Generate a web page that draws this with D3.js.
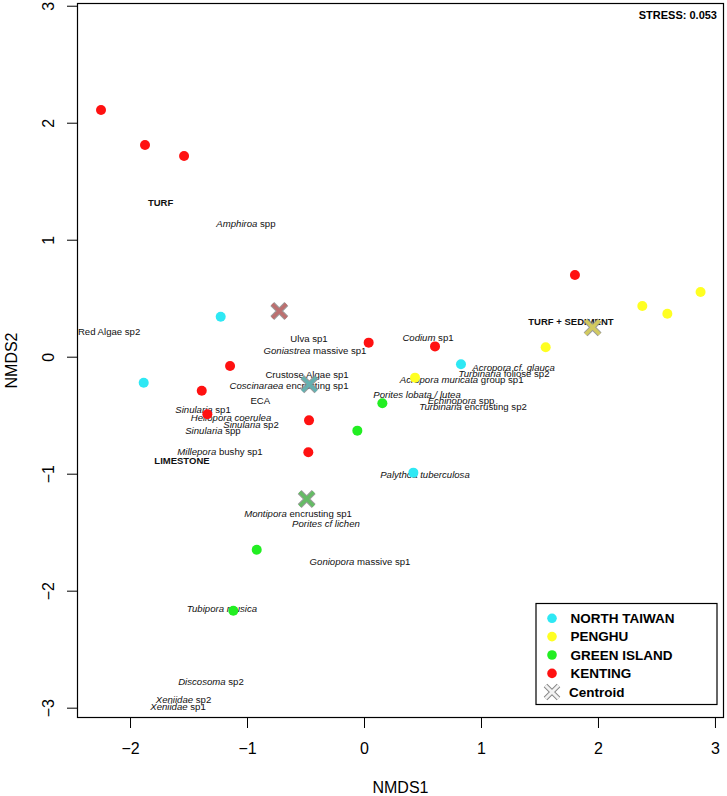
<!DOCTYPE html>
<html>
<head>
<meta charset="utf-8">
<script src="https://cdn.jsdelivr.net/npm/d3@7"></script>
<style>
  html, body { margin: 0; padding: 0; background: #fff; }
  svg { display: block; font-family: "Liberation Sans", Arial, Helvetica, sans-serif; }
</style>
</head>
<body>
<script>
// ---------- DATA ----------
const regions = ["NORTH TAIWAN", "PENGHU", "GREEN ISLAND", "KENTING"];
const regionColors = ["#2ee8f4", "#ffff22", "#22ee22", "#ff1111"];
const centroidColors = ["#5fb3b3", "#d8cf5a", "#5fbf5f", "#c06a6a"];

// site scores (NMDS1, NMDS2) per region
const northTaiwanX = [-1.225, -1.883, 0.829, 0.422];
const northTaiwanY = [0.342, -0.222, -0.065, -0.991];
const penghuX = [0.436, 1.553, 2.379, 2.593, 2.877];
const penghuY = [-0.179, 0.080, 0.433, 0.367, 0.553];
const greenIslandX = [0.157, -0.057, -0.917, -1.117];
const greenIslandY = [-0.398, -0.632, -1.650, -2.171];
const kentingX = [-2.248, -1.872, -1.538, 1.803, 0.040, 0.607, -1.145, -1.387, -1.339, -0.470, -0.476];
const kentingY = [2.109, 1.809, 1.715, 0.698, 0.120, 0.088, -0.079, -0.291, -0.492, -0.544, -0.817];

// centroids (same order as regions)
const centroidX = [-0.467, 1.954, -0.490, -0.724];
const centroidY = [-0.236, 0.251, -1.216, 0.391];

// species scores: italic part + plain part
const speciesItalic = ["", "Amphiroa", "", "Goniastrea", "", "Coscinaraea", "", "Sinularia", "Heliopora coerulea",
  "Sinularia", "Sinularia", "Millepora", "Codium", "Acropora cf. glauca", "Turbinaria", "Acropora muricata",
  "Porites lobata / lutea", "Echinopora", "Turbinaria", "Palythoa tuberculosa", "Montipora", "Porites cf lichen",
  "Goniopora", "Tubipora musica", "Discosoma", "Xeniidae", "Xeniidae"];
const speciesPlain = ["Red Algae sp2", " spp", "Ulva sp1", " massive sp1", "Crustose Algae sp1", " encrusting sp1", "ECA", " sp1", "",
  " sp2", " spp", " bushy sp1", " sp1", "", " foliose sp2", " group sp1",
  "", " spp", " encrusting sp2", "", " encrusting sp1", "",
  " massive sp1", "", " sp2", " sp2", " sp1"];
const speciesX = [-2.179, -1.009, -0.470, -0.419, -0.487, -0.641, -0.886, -1.376, -1.137,
  -0.966, -1.291, -1.231, 0.547, 1.279, 1.197, 0.835,
  0.453, 0.829, 0.932, 0.521, -0.564, -0.325,
  -0.034, -1.214, -1.308, -1.543, -1.590];
const speciesY = [0.214, 1.134, 0.157, 0.051, -0.150, -0.244, -0.379, -0.450, -0.521,
  -0.578, -0.635, -0.812, 0.162, -0.091, -0.142, -0.193,
  -0.321, -0.373, -0.427, -1.011, -1.344, -1.427,
  -1.749, -2.154, -2.778, -2.928, -2.991];

// substrate labels
const substrateNames = ["TURF", "TURF + SEDIMENT", "LIMESTONE"];
const substrateX = [-1.739, 1.769, -1.556];
const substrateY = [1.320, 0.297, -0.891];

const xTicks = [-2, -1, 0, 1, 2, 3];
const yTicks = [-3, -2, -1, 0, 1, 2, 3];
const stressLabel = "STRESS: 0.053";

// ---------- LAYOUT ----------
const W = 727, H = 796;
const pL = 77.5, pR = 723.5, pT = 3.5, pB = 717.5;

const x = d3.scaleLinear().domain([-2.449, 3.073]).range([pL, pR]);
const y = d3.scaleLinear().domain([-3.084, 3.019]).range([pB, pT]);

const svg = d3.select("body").append("svg").attr("width", W).attr("height", H);

const fmt = d => d < 0 ? "\u2212" + Math.abs(d) : String(d);

// axes
const gx = svg.append("g").attr("transform", `translate(0,${pB})`)
  .call(d3.axisBottom(x).tickValues(xTicks).tickSize(10.5).tickFormat(fmt));
gx.select(".domain").remove();
gx.selectAll(".tick line").attr("stroke", "#000").attr("stroke-width", 1);
gx.selectAll(".tick text").attr("y", 0).attr("dy", 0).attr("transform", "translate(0,36.5)")
  .attr("font-size", 16).attr("fill", "#000").attr("font-family", null);

const gy = svg.append("g").attr("transform", `translate(${pL},0)`)
  .call(d3.axisLeft(y).tickValues(yTicks).tickSize(10.5).tickFormat(fmt));
gy.select(".domain").remove();
gy.selectAll(".tick line").attr("stroke", "#000").attr("stroke-width", 1);
gy.selectAll(".tick text").attr("x", 0).attr("dy", 0).attr("text-anchor", "middle")
  .attr("transform", "translate(-24,0) rotate(-90)")
  .attr("font-size", 16).attr("fill", "#000").attr("font-family", null);

// box
svg.append("rect").attr("x", pL).attr("y", pT).attr("width", pR - pL).attr("height", pB - pT)
  .attr("fill", "none").attr("stroke", "#000").attr("stroke-width", 1.2);

// axis titles
svg.append("text").attr("x", (pL + pR) / 2).attr("y", 793).attr("text-anchor", "middle")
  .attr("font-size", 16).text("NMDS1");
svg.append("text").attr("transform", `translate(17,${(pT + pB) / 2}) rotate(-90)`).attr("text-anchor", "middle")
  .attr("font-size", 16).text("NMDS2");

// stress
svg.append("text").attr("x", 717).attr("y", 19).attr("text-anchor", "end")
  .attr("font-size", 11).attr("font-weight", "bold").text(stressLabel);

// species labels
const species = speciesX.map((v, i) => ({ x: v, y: speciesY[i], it: speciesItalic[i], pl: speciesPlain[i] }));
const sp = svg.append("g").selectAll("text").data(species).join("text")
  .attr("x", d => x(d.x)).attr("y", d => y(d.y)).attr("dy", "0.35em")
  .attr("text-anchor", "middle").attr("font-size", 9.6).attr("fill", "#111");
sp.append("tspan").attr("font-style", "italic").text(d => d.it);
sp.append("tspan").text(d => d.pl);

// substrate labels
svg.append("g").selectAll("text").data(substrateNames).join("text")
  .attr("x", (d, i) => x(substrateX[i])).attr("y", (d, i) => y(substrateY[i])).attr("dy", "0.35em")
  .attr("text-anchor", "middle").attr("font-size", 9.5).attr("font-weight", "bold").attr("fill", "#111")
  .text(d => d);

// points
const groupsX = [northTaiwanX, penghuX, greenIslandX, kentingX];
const groupsY = [northTaiwanY, penghuY, greenIslandY, kentingY];
const pts = [];
groupsX.forEach((arr, g) => arr.forEach((v, i) => pts.push({ x: v, y: groupsY[g][i], g })));
svg.append("g").selectAll("circle").data(pts).join("circle")
  .attr("cx", d => x(d.x)).attr("cy", d => y(d.y)).attr("r", 5)
  .attr("fill", d => regionColors[d.g]);

// centroid marker
function drawX(g, cx, cy, s, col, legend) {
  const p = `M${cx - s},${cy - s}L${cx + s},${cy + s}M${cx - s},${cy + s}L${cx + s},${cy - s}`;
  if (legend) {
    g.append("path").attr("d", p).attr("stroke", "#888").attr("stroke-width", 5).attr("fill", "none");
    g.append("path").attr("d", p).attr("stroke", "#f2f2f2").attr("stroke-width", 3).attr("fill", "none");
  } else {
    g.append("path").attr("d", p).attr("stroke", "#8a8a8a").attr("stroke-width", 5.5).attr("fill", "none").attr("opacity", 0.85);
    g.append("path").attr("d", p).attr("stroke", col).attr("stroke-width", 3.5).attr("fill", "none").attr("opacity", 0.9);
  }
}
const cg = svg.append("g");
centroidX.forEach((v, i) => drawX(cg, x(v), y(centroidY[i]), 7, centroidColors[i], false));

// legend
const lg = svg.append("g");
lg.append("rect").attr("x", 536).attr("y", 603.5).attr("width", 181).attr("height", 101)
  .attr("fill", "#fff").attr("stroke", "#000").attr("stroke-width", 1.2);
const legY = [618.3, 636.6, 655, 673.4, 692];
regions.forEach((r, i) => {
  lg.append("circle").attr("cx", 552).attr("cy", legY[i]).attr("r", 4.8).attr("fill", regionColors[i]);
  lg.append("text").attr("x", 570.5).attr("y", legY[i]).attr("dy", "0.36em")
    .attr("font-size", 13.5).attr("font-weight", "bold").text(r);
});
drawX(lg, 552, legY[4], 6.5, null, true);
lg.append("text").attr("x", 569).attr("y", legY[4]).attr("dy", "0.36em")
  .attr("font-size", 13.5).attr("font-weight", "bold").text("Centroid");
</script>
</body>
</html>
